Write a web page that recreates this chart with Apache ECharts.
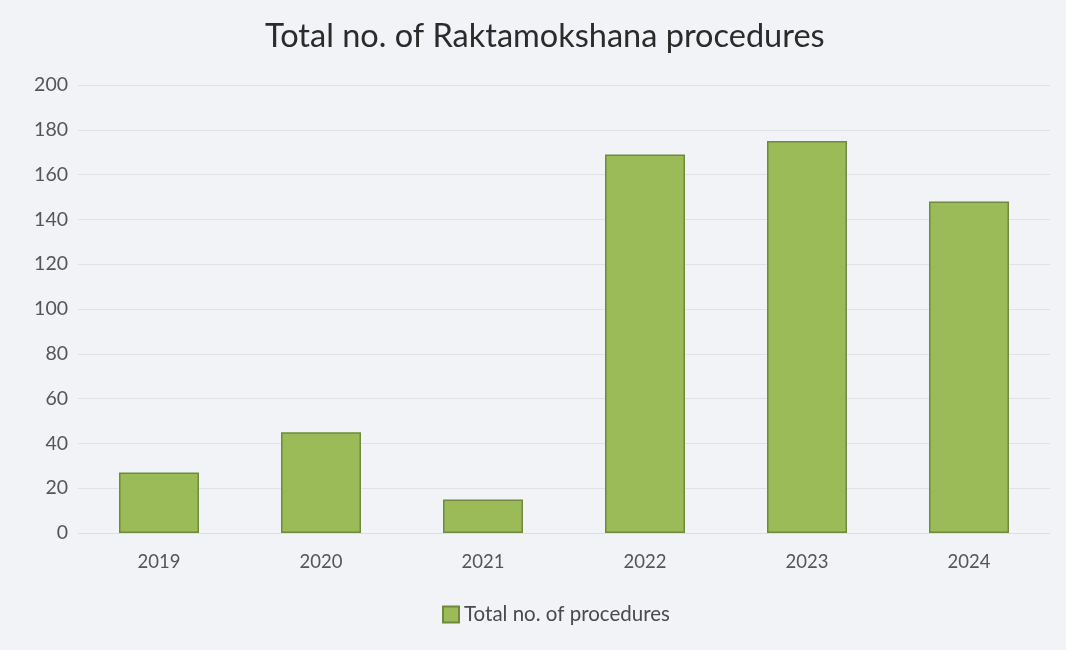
<!DOCTYPE html>
<html>
<head>
<meta charset="utf-8">
<script src="https://cdn.jsdelivr.net/npm/echarts@6/dist/echarts.min.js"></script>
<style>
  html, body { margin: 0; padding: 0; background: #f2f3f7; }
  #chart { width: 1066px; height: 650px; }
</style>
</head>
<body>
<div id="chart"></div>
<script>
// data
const years = ["2019", "2020", "2021", "2022", "2023", "2024"];
const procedures = [27, 45, 15, 169, 175, 148];
const seriesName = "Total no. of procedures";

const chart = echarts.init(document.getElementById("chart"));
chart.setOption({
  backgroundColor: "#f2f3f7",
  animation: false,
  textStyle: { fontFamily: "Lato" },
  title: {
    text: "Total no. of Raktamokshana procedures",
    left: 260,
    top: 15,
    textStyle: { fontFamily: "Lato", fontSize: 32.5, fontWeight: "normal", color: "#2b2b2b" },
  },
  legend: {
    bottom: 20,
    left: 437,
    icon: "rect",
    itemWidth: 16,
    itemHeight: 16,
    itemGap: 4,
    textStyle: { fontFamily: "Lato", fontSize: 20.5, color: "#4a4a4a" },
    data: [seriesName],
  },
  grid: { left: 78, right: 16, top: 85, bottom: 117 },
  xAxis: {
    type: "category",
    data: years,
    axisLine: { show: true, lineStyle: { color: "#dcdee3" } },
    axisTick: { show: false },
    axisLabel: { fontSize: 18.5, color: "#555", margin: 20 },
  },
  yAxis: {
    type: "value",
    min: 0,
    max: 200,
    interval: 20,
    axisLine: { show: false },
    axisTick: { show: false },
    axisLabel: { fontSize: 19.5, color: "#555", margin: 10 },
    splitLine: { lineStyle: { color: "#e0e2e7" } },
  },
  series: [
    {
      name: seriesName,
      type: "bar",
      data: procedures,
      barWidth: 80,
      itemStyle: { color: "#9bbb59", borderColor: "#6f8a3c", borderWidth: 1.5 },
    },
  ],
});
</script>
</body>
</html>
